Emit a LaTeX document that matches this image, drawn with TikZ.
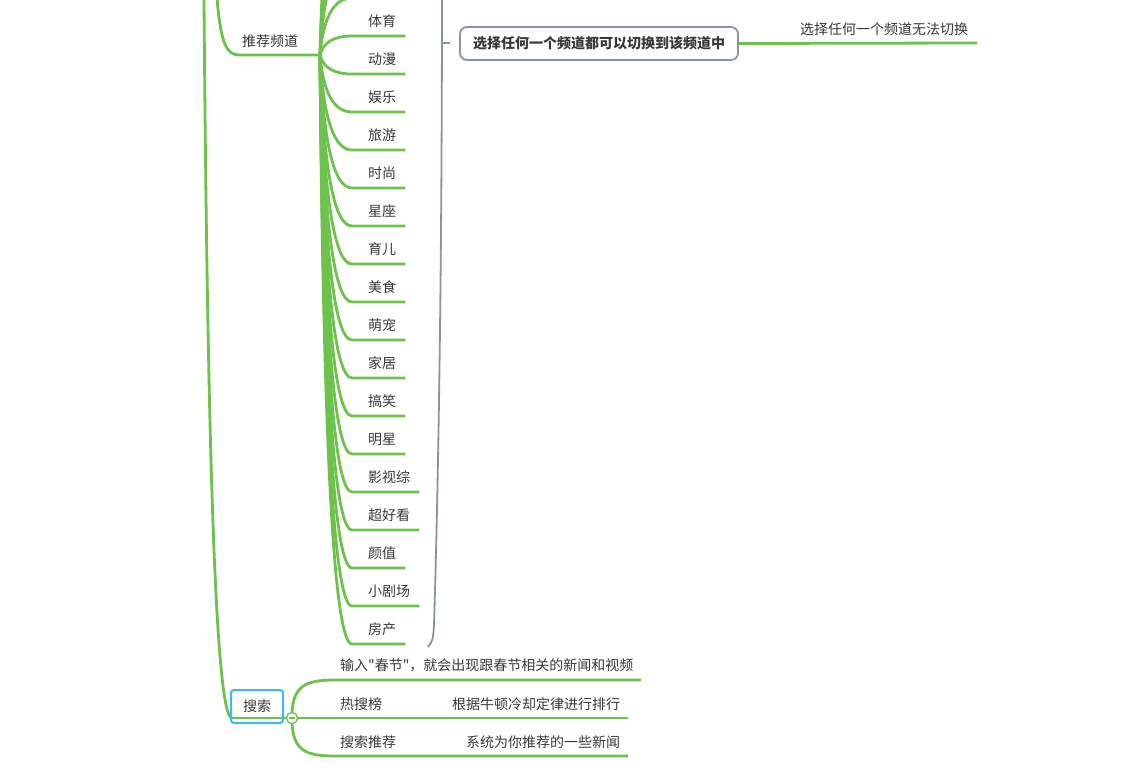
\documentclass[tikz,border=0pt]{standalone}
\usepackage{fontspec}
\setmainfont{Noto Sans CJK SC}
\newfontfamily\cjk{Noto Sans CJK SC}
\usetikzlibrary{calc}
\definecolor{grn}{HTML}{6CC24A}
\definecolor{gry}{HTML}{8A93A3}
\definecolor{txt}{HTML}{383838}
\definecolor{blu}{HTML}{3BB9F2}
\begin{document}
\begin{tikzpicture}[x=1pt,y=-1pt,
  gline/.style={draw=grn, line width=2.8pt},
  sline/.style={draw=gry, line width=1.8pt},
  lbl/.style={font=\cjk\fontsize{14}{16}\selectfont, text=txt, inner sep=0pt, anchor=base west},
  sumbox/.style={draw=gry, line width=1.8pt, rounded corners=7pt, fill=white,
     minimum width=278pt, minimum height=33pt, inner sep=0pt,
     font=\cjk\fontsize{14}{16}\selectfont\bfseries, text=txt},
  topicbox/.style={draw=blu, line width=2pt, rounded corners=3pt,
     minimum width=52pt, minimum height=33pt, inner sep=0pt,
     font=\cjk\fontsize{14}{16}\selectfont, text=txt},
  toggle/.style={circle, draw=grn, line width=1.2pt, fill=white, minimum size=11pt, inner sep=0pt}
]
\useasboundingbox (0,0) rectangle (1127,781);
\clip (0,0) rectangle (1127,781);

% off-canvas origins
\coordinate (root) at (203,-150);
\coordinate (rootb) at (212,-80);
\coordinate (hub) at (320,55);
\coordinate (tjs) at (240,55);

% main trunk to search
\coordinate (ssin) at (232,718);
\draw[gline] (root) .. controls (206,400) and (214,718) .. (ssin);

% branch to 推荐频道
\draw[gline] (rootb) .. controls (218,35) and (221,55) .. (tjs) -- (hub);
\node[lbl] (tj) at (242,47) {推荐频道};

% hidden children above canvas
\foreach \Y [count=\j] in {-2,-40,-78,-116,-154} {
  \pgfmathsetmacro\Ya{55+0.6667*(\Y-55)}
  \coordinate (h\j) at (352,\Y);
  \draw[gline] (hub) .. controls (323.3,\Ya) and (334,\Y) .. (h\j) -- ++(53,0);
}

% visible children
\foreach \name [count=\k from 0] in {体育,动漫,娱乐,旅游,时尚,星座,育儿,美食,萌宠,家居,搞笑,明星,影视综,超好看,颜值,小剧场,房产} {
  \pgfmathsetmacro\Y{36+38*\k}
  \pgfmathsetmacro\Ya{55+0.6667*(\Y-55)}
  \node[lbl] (c\k) at (368,\Y-9.7) {\name};
  \coordinate (u\k) at (352,\Y);
  \draw[gline] (hub) .. controls (323.3,\Ya) and (334,\Y) .. (u\k) -- ($(u\k -| c\k.east)+(9,0)$);
}

% summary bracket
\coordinate (bt) at (442,-20);
\coordinate (bm) at (442,43);
\coordinate (bb) at (428,647);
\draw[sline] (bt) .. controls (442,350) and (436,560) .. (434,625) .. controls (433,640) .. (bb);
\node[sumbox] (bx) at (599,43.5) {选择任何一个频道都可以切换到该频道中};
\draw[sline] (bm) -- ++(8,0);

% summary child
\node[lbl] (nt) at (800,35) {选择任何一个频道无法切换};
\coordinate (ntend) at (977,43);
\draw[gline] (bx.east) -- (ntend);

% search topic
\node[toggle] (tog) at (292,718) {};
\draw[gline] (ssin) -- (tog.west);
\node[topicbox] (ss) at (257,706.5) {搜索};
\node[toggle] at (tog) {};
\draw[grn, line width=1.2pt] ($(tog)+(-3,0)$) -- ($(tog)+(3,0)$);

\coordinate (s1) at (335,680);
\coordinate (s3) at (335,756);
\draw[gline] (tog.north) .. controls (294,686) and (305,680) .. (s1) -- (641,680);
\draw[gline] (tog.east) -- (628,718);
\draw[gline] (tog.south) .. controls (294,750) and (305,756) .. (s3) -- (628,756);

\node[lbl] (q1) at (340,670.3) {输入"春节"，就会出现跟春节相关的新闻和视频};
\node[lbl] (q2) at (340,709.5) {热搜榜};
\node[lbl] (q2a) at (452,709.5) {根据牛顿冷却定律进行排行};
\node[lbl] (q3) at (340,747) {搜索推荐};
\node[lbl] (q3a) at (466,747) {系统为你推荐的一些新闻};
\end{tikzpicture}
\end{document}
